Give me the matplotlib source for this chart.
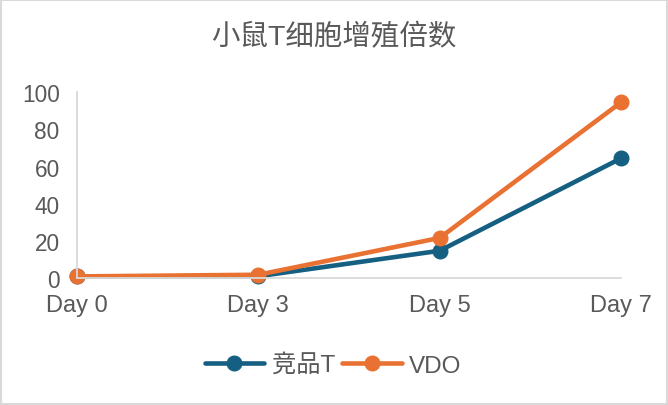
import matplotlib
matplotlib.use("Agg")
import matplotlib.pyplot as plt
from matplotlib.patches import Rectangle

plt.rcParams['font.family'] = ['Liberation Sans', 'Noto Sans CJK SC', 'DejaVu Sans']

# data
days = ["Day 0", "Day 3", "Day 5", "Day 7"]
competitor_t = [1.0, 1.1, 14.8, 64.5]
vdo = [1.0, 1.9, 21.7, 94.6]
y_ticks = [0, 20, 40, 60, 80, 100]

title = "小鼠T细胞增殖倍数"
series_names = ["竞品T", "VDO"]
colors = ["#156082", "#E97132"]
text_color = "#595959"
grid_color = "#D9D9D9"

fig = plt.figure(figsize=(6.68, 4.06), dpi=100)
ax = fig.add_axes([0.1153, 0.3121, 0.8144, 0.4581])

x = list(range(len(days)))
for vals, name, c in zip([competitor_t, vdo], series_names, colors):
    ax.plot(x, vals, color=c, lw=3.3, marker="o", ms=10.5,
            label=name, clip_on=False, solid_capstyle="round")

ax.set_xlim(0, len(days) - 1)
ax.set_ylim(0, 100)
ax.set_xticks(x)
ax.set_xticklabels(days)
ax.set_yticks(y_ticks)

for side in ["top", "right"]:
    ax.spines[side].set_visible(False)
for side in ["left", "bottom"]:
    ax.spines[side].set_color(grid_color)
    ax.spines[side].set_linewidth(1.3)

ax.tick_params(axis="both", length=0, colors=text_color)
ax.tick_params(axis="x", pad=11.5, labelsize=17)
ax.tick_params(axis="y", pad=12.5, labelsize=16.3)

fig.text(0.5, 0.908, title, ha="center", va="center",
         fontsize=20.5, color=text_color)

leg = fig.legend(loc="center", bbox_to_anchor=(0.4985, 0.098), ncol=2,
                 frameon=False, fontsize=17.5, handlelength=2.45,
                 handletextpad=0.3, columnspacing=0.3, borderpad=0)
for t in leg.get_texts():
    t.set_color(text_color)

fig.patches.append(Rectangle((0.002, 0.003), 0.996, 0.994, transform=fig.transFigure,
                             fill=False, edgecolor=grid_color, lw=1.5))

fig.savefig("out.png", dpi=100)
